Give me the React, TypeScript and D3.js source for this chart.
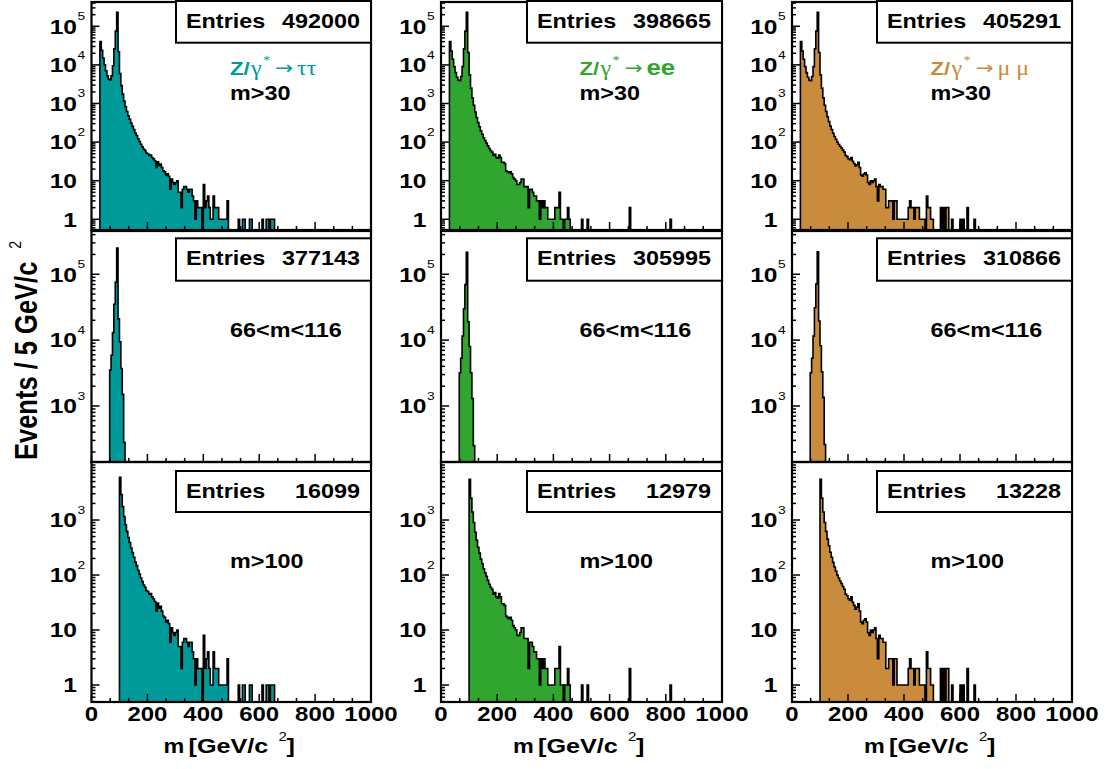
import React from "react";
import * as d3 from "d3";

// ---------------- data (events per 5 GeV bin) ----------------
const binWidth = 5;
const massMin = 0;
const massMax = 1000;
const startAll = 30; // first bin of the "m>30" histograms
const startZ = 65; // first bin of the "66<m<116" histograms
const highCut = 100; // "m>100" histograms

const tauAll = [
  40000, 24000, 15000, 10000, 7000, 5200, 4300, 4100, 5200, 9500,
  26000, 75000, 230000, 22000, 6000, 2900, 1750, 1150, 820, 620,
  480, 390, 310, 255, 210, 172, 148, 122, 104, 88,
  76, 66, 60, 52, 50, 45, 46, 40, 37, 33,
  22, 31, 25, 27, 22, 18, 17, 14, 15, 13,
  6, 11, 9, 8, 9, 10, 5, 5, 2, 6,
  7, 7, 6, 5, 6, 6, 4, 3, 1, 3,
  2, 2, 2, 0, 8, 2, 3, 4, 2, 1,
  1, 4, 2, 2, 2, 1, 1, 1, 1, 1,
  1, 3,
];
const tauTail = [
  [525, 1], [540, 1], [545, 1], [565, 1], [570, 1], [610, 1],
  [625, 1], [630, 1], [640, 1], [645, 1], [650, 1],
];

const eeAll = [
  40000, 23000, 14000, 9000, 6300, 4800, 4000, 3900, 5000, 9000,
  26000, 75000, 230000, 21000, 5500, 2500, 1400, 900, 600, 430,
  320, 250, 195, 160, 130, 110, 95, 80, 68, 60,
  55, 45, 48, 40, 38, 46, 40, 30, 30, 28,
  18, 17, 16, 17, 15, 12, 11, 10, 8, 8,
  9, 11, 11, 7, 7, 7, 2, 6, 6, 5,
  4, 4, 3, 3, 1, 3, 2, 3, 2, 2,
  1, 1, 1, 1, 1, 2, 2, 2, 5, 1,
  1, 0, 1, 1, 2, 1,
];
const eeTail = [[500, 1], [520, 1], [670, 2], [815, 1]];

const mumuAll = [
  40000, 23000, 14000, 9000, 6300, 4800, 4000, 3900, 5000, 9000,
  26000, 75000, 230000, 21000, 5500, 2500, 1400, 900, 620, 450,
  340, 260, 210, 170, 140, 118, 100, 88, 78, 70,
  62, 55, 45, 42, 37, 35, 40, 32, 28, 24,
  26, 30, 22, 14, 13, 15, 16, 14, 9, 8,
  10, 9, 10, 11, 7, 3, 8, 7, 7, 6,
  6, 2, 2, 3, 3, 3, 1, 3, 3, 1,
  1, 1, 1, 1, 1, 1, 1, 2, 3, 2,
  2, 1, 2, 2, 2, 1, 1, 1, 1, 0,
  4, 2, 2, 1, 1,
];
const mumuTail = [
  [530, 2], [540, 2], [550, 2], [555, 2], [570, 1], [600, 1],
  [610, 1], [625, 2], [650, 1],
];

const tauZ = [3500, 5900, 13000, 35000, 76000, 250000, 21000, 9400, 3700, 1500, 280];
const eeZ = [3200, 5300, 11500, 30000, 70000, 215000, 19000, 8000, 3200, 1300, 250];
const mumuZ = [3200, 5300, 11500, 31000, 71000, 220000, 19500, 8200, 3300, 1350, 260];

const entriesAll = [492000, 398665, 405291];
const entriesZ = [377143, 305995, 310866];
const entriesHigh = [16099, 12979, 13228];
const cutLabels = ["m>30", "66<m<116", "m>100"];
const finalStates = ["ττ", "ee", "μ μ"];
const xTickValues = [0, 200, 400, 600, 800, 1000];
const yLabelDecades = [
  [0, 1, 2, 3, 4, 5],
  [3, 4, 5],
  [0, 1, 2, 3],
];

// ---------------- styling / layout ----------------
const fillColors = ["#009a9a", "#30a630", "#c98b3c"];
const SANS = "'Liberation Sans', Arial, Helvetica, sans-serif";
const SERIF = "'Liberation Serif', 'Times New Roman', serif";
const SX = 1.2;

const cols = [
  { l: 91.5, r: 371 },
  { l: 441, r: 722 },
  { l: 792, r: 1072 },
];
const rowsG = [
  { t: 2, b: 230, lo: 0.528, hi: 4.26e5, boxT: 1, boxB: 42.7, textY: 28.3, cutY: 100 },
  { t: 231, b: 462, lo: 141, hi: 4.54e5, boxT: 238.3, boxB: 280.7, textY: 265, cutY: 336.7 },
  { t: 462, b: 702, lo: 0.491, hi: 1.134e4, boxT: 471, boxB: 512, textY: 497.7, cutY: 568 },
];

function buildBins(start: number, dense: number[], tail: number[][] = [], cut = -1) {
  const nb = (massMax - massMin) / binWidth;
  const arr: number[] = new Array(nb).fill(0);
  dense.forEach((v, i) => {
    arr[(start - massMin) / binWidth + i] = v;
  });
  tail.forEach(([m, v]) => {
    arr[(m - massMin) / binWidth] = v;
  });
  if (cut > 0) for (let i = 0; i < (cut - massMin) / binWidth; i++) arr[i] = 0;
  return arr;
}

const allSets = [
  [buildBins(startAll, tauAll, tauTail), buildBins(startAll, eeAll, eeTail), buildBins(startAll, mumuAll, mumuTail)],
  [buildBins(startZ, tauZ), buildBins(startZ, eeZ), buildBins(startZ, mumuZ)],
  [
    buildBins(startAll, tauAll, tauTail, highCut),
    buildBins(startAll, eeAll, eeTail, highCut),
    buildBins(startAll, mumuAll, mumuTail, highCut),
  ],
];
const entriesSets = [entriesAll, entriesZ, entriesHigh];

function T(props: any) {
  const { x, y, size = 19, anchor = "start", weight = "bold", family = SANS, fill = "#000", children } = props;
  return (
    <text
      transform={`translate(${x},${y}) scale(${SX},1)`}
      fontSize={size}
      fontWeight={weight}
      fontFamily={family}
      fill={fill}
      textAnchor={anchor}
    >
      {children}
    </text>
  );
}

function histPath(bins: number[], x: any, y: any, yb: number) {
  const first = bins.findIndex((v) => v > 0);
  let last = bins.length - 1;
  while (last > 0 && !(bins[last] > 0)) last--;
  const pts: [number, number][] = [];
  pts.push([x(first * binWidth + massMin), yb]);
  for (let i = first; i <= last; i++) {
    const yy = bins[i] > 0 ? y(bins[i]) : yb;
    pts.push([x(i * binWidth + massMin), yy]);
    pts.push([x((i + 1) * binWidth + massMin), yy]);
  }
  pts.push([x((last + 1) * binWidth + massMin), yb]);
  return d3.line()(pts) as string;
}

function Panel({ ci, ri }: { ci: number; ri: number }) {
  const c = cols[ci];
  const r = rowsG[ri];
  const x = d3.scaleLinear().domain([massMin, massMax]).range([c.l, c.r]);
  const y = d3.scaleLog().domain([r.lo, r.hi]).range([r.b, r.t]).clamp(true);
  const bins = allSets[ri][ci];
  const d = histPath(bins, x, y, r.b + 2);
  const clipId = `clip-${ri}-${ci}`;

  const xMajor = xTickValues;
  const xMinor: number[] = [];
  for (let i = 0; i < xMajor.length - 1; i++) {
    const step = (xMajor[i + 1] - xMajor[i]) / 3;
    xMinor.push(xMajor[i] + step, xMajor[i] + 2 * step);
  }
  const kLo = Math.floor(Math.log10(r.lo));
  const kHi = Math.ceil(Math.log10(r.hi));
  const yMajor = yLabelDecades[ri];
  const yMinor: number[] = [];
  for (let k = kLo; k <= kHi; k++) {
    const base = Math.pow(10, k);
    for (let j = 2; j <= 10; j++) {
      const v = j * base;
      if (j === 10 && yMajor.indexOf(k + 1) >= 0) continue;
      if (v >= r.lo && v <= r.hi) yMinor.push(v);
    }
  }
  const labX = c.l - 14.5;
  const col = fillColors[ci];
  const x0 = c.l + 138.5;

  return (
    <g>
      <defs>
        <clipPath id={clipId}>
          <rect x={c.l} y={r.t} width={c.r - c.l} height={r.b - r.t} />
        </clipPath>
      </defs>
      <g clipPath={`url(#${clipId})`}>
        <path d={d} fill={col} stroke="none" />
        <path d={d} fill="none" stroke="#000" strokeWidth={1.6} strokeLinejoin="miter" />
      </g>
      {xMajor.map((v) => (
        <line key={"xM" + v} x1={x(v)} x2={x(v)} y1={r.b} y2={r.b - 8} stroke="#000" strokeWidth={1.5} />
      ))}
      {xMinor.map((v, i) => (
        <line key={"xm" + i} x1={x(v)} x2={x(v)} y1={r.b} y2={r.b - 4} stroke="#000" strokeWidth={1.5} />
      ))}
      {yMajor.map((k) => (
        <line key={"yM" + k} x1={c.l} x2={c.l + 8} y1={y(Math.pow(10, k))} y2={y(Math.pow(10, k))} stroke="#000" strokeWidth={1.5} />
      ))}
      {yMinor.map((v, i) => (
        <line key={"ym" + i} x1={c.l} x2={c.l + 4} y1={y(v)} y2={y(v)} stroke="#000" strokeWidth={1.5} />
      ))}
      <rect x={c.l} y={r.t} width={c.r - c.l} height={r.b - r.t} fill="none" stroke="#000" strokeWidth={2.2} />
      {yMajor.map((k) => {
        const yy = y(Math.pow(10, k)) + 7.3;
        return (
          <g key={"yl" + k}>
            <T x={labX} y={yy} anchor="end" size={20.5}>
              {k === 0 ? "1" : "10"}
            </T>
            {k >= 2 ? (
              <T x={labX + 0.5} y={yy - 13.5} size={11.5} weight="normal">
                {String(k)}
              </T>
            ) : null}
          </g>
        );
      })}
      {ri === 2
        ? xMajor.map((v) => (
            <T key={"xl" + v} x={x(v)} y={721} anchor="middle" size={20}>
              {String(v)}
            </T>
          ))
        : null}
      {ri === 2 ? (
        <g>
          <T x={c.l + 72} y={753} size={19.5}>m</T>
          <T x={c.l + 97} y={753} size={21}>[GeV/c</T>
          <T x={c.l + 187} y={741} size={12.5} weight="normal">2</T>
          <T x={c.l + 195} y={753} size={21}>]</T>
        </g>
      ) : null}
      <rect x={c.r - 195} y={r.boxT} width={195} height={r.boxB - r.boxT} fill="#fff" stroke="#000" strokeWidth={2} />
      <T x={c.r - 185} y={r.textY} size={19.5}>Entries</T>
      <T x={c.r - 11} y={r.textY} anchor="end" size={19.5}>
        {String(entriesSets[ri][ci])}
      </T>
      {ri === 0 ? (
        <g>
          <T x={x0} y={75} size={18.5} fill={col}>Z/</T>
          <T x={x0 + 21} y={75} size={20} weight="normal" family={SERIF} fill={col}>γ</T>
          <T x={x0 + 33} y={63.5} size={12} weight="normal" family={SERIF} fill={col}>*</T>
          <T x={x0 + 45} y={74} size={18} weight="normal" family="'DejaVu Sans', sans-serif" fill={col}>→</T>
          {ci === 1 ? (
            <T x={x0 + 67} y={75} size={21.5} fill={col}>{finalStates[ci]}</T>
          ) : (
            <T x={x0 + 67} y={75} size={20} weight="normal" family={SERIF} fill={col}>
              {finalStates[ci]}
            </T>
          )}
        </g>
      ) : null}
      <T x={x0} y={r.cutY} size={19.5}>{cutLabels[ri]}</T>
    </g>
  );
}

export default function App() {
  return (
    <svg
      width={1105}
      height={769}
      style={{ position: "absolute", left: 0, top: 0, background: "#fff" }}
    >
      <rect x={0} y={0} width={1105} height={769} fill="#fff" />
      {[0, 1, 2].map((ri) => [0, 1, 2].map((ci) => <Panel key={`${ri}-${ci}`} ci={ci} ri={ri} />))}
      <text
        transform="translate(36.7,460) rotate(-90) scale(1,1.2)"
        fontSize={25.5}
        fontWeight="bold"
        fontFamily={SANS}
        fill="#000"
      >
        Events / 5 GeV/c
        <tspan dx={13} dy={-13} fontSize={14} fontWeight="normal">
          2
        </tspan>
      </text>
    </svg>
  );
}
